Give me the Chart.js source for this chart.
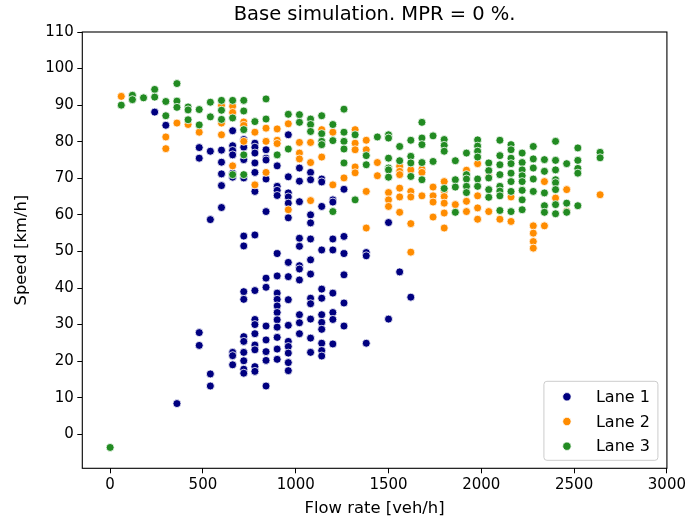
<!DOCTYPE html>
<html>
<head>
<meta charset="utf-8">
<script src="https://cdn.jsdelivr.net/npm/chart.js@4.4.1/dist/chart.umd.min.js"></script>
<style>
  html, body { margin: 0; padding: 0; background: #fff; }
</style>
</head>
<body>
<canvas id="chart" width="689" height="525"></canvas>
<script>
// speeds [km/h], grouped by flow rate [veh/h]
const lane1 = {
  240: [88.1], 300: [84.5], 360: [8.4],
  480: [78.4, 75.5, 27.8, 24.3],
  540: [77.4, 58.7, 16.5, 13.2],
  600: [77.7, 74.4, 71.2, 68.0, 62.0],
  660: [83.0, 78.9, 77.6, 76.4, 71.4, 70.3, 22.4, 21.5, 19.0],
  720: [80.6, 78.5, 75.1, 70.1, 54.2, 51.5, 39.0, 36.9, 26.7, 25.4, 22.4, 20.1, 17.8, 16.7],
  780: [79.6, 78.5, 76.9, 74.2, 71.6, 66.4, 54.5, 39.3, 31.4, 30.0, 27.5, 24.4, 23.1, 18.5, 17.2],
  840: [77.8, 75.5, 75.0, 69.8, 60.9, 42.7, 40.2, 29.6, 25.8, 22.6, 20.2, 13.2],
  900: [73.4, 67.8, 66.7, 65.3, 49.4, 43.3, 38.6, 36.9, 35.1, 33.3, 31.3, 29.3, 26.5, 23.3, 20.5],
  960: [81.9, 70.4, 66.0, 64.9, 63.2, 59.2, 47.0, 43.1, 36.8, 29.8, 25.4, 24.0, 22.2, 19.6, 17.4],
  1020: [72.8, 69.2, 63.6, 53.6, 51.4, 46.1, 45.2, 42.2, 32.7, 30.5, 27.5],
  1080: [71.6, 69.6, 60.0, 57.8, 53.4, 47.7, 43.8, 37.2, 35.7, 31.5, 26.3, 22.4],
  1140: [69.8, 69.0, 62.3, 50.4, 39.7, 37.2, 32.7, 30.6, 28.7, 24.9, 22.9, 21.4],
  1200: [64.1, 63.5, 53.4, 50.4, 38.6, 33.3, 31.4, 24.7],
  1260: [67.0, 54.1, 49.4, 43.6, 35.9, 29.6],
  1380: [49.7, 48.8, 24.9],
  1500: [57.9, 31.5], 1560: [44.4], 1620: [37.5]
};

const lane2 = {
  60: [92.4], 300: [81.3, 78.1], 360: [85.1], 420: [84.7], 480: [82.6],
  600: [89.9, 85.1, 81.9],
  660: [89.7, 88.0, 73.4],
  720: [85.4, 84.4, 80.1],
  780: [82.6, 68.2],
  840: [83.7, 80.1, 71.6],
  900: [83.5, 80.4, 79.5],
  960: [84.9, 61.4],
  1020: [79.8, 76.9, 75.3],
  1080: [79.8, 74.3, 63.9],
  1140: [83.3, 75.8],
  1200: [82.6, 68.2],
  1260: [70.1],
  1320: [83.3, 79.6, 77.8, 73.1, 71.5],
  1380: [80.4, 77.8, 66.4, 56.4],
  1440: [74.3, 70.7],
  1500: [66.1, 64.1, 62.3],
  1560: [73.3, 71.9, 71.0, 67.3, 64.9, 60.7],
  1620: [72.3, 66.4, 64.9, 57.6, 49.8],
  1680: [72.5, 71.6, 65.2],
  1740: [67.6, 65.2, 63.5, 59.4],
  1800: [69.1, 66.5, 65.0, 63.2, 60.5, 56.4],
  1860: [62.8],
  1920: [72.2, 63.7, 60.9],
  1980: [74.0, 65.2, 61.9, 58.8],
  2040: [70.5, 60.9],
  2100: [65.8, 58.8],
  2160: [64.9, 58.2],
  2280: [57.0, 55.0, 52.7, 50.9],
  2340: [69.1, 57.0],
  2400: [64.6],
  2460: [66.9, 61.0],
  2640: [65.5]
};

const lane3 = {
  0: [-3.6], 60: [90.0], 120: [92.7, 91.5], 180: [92.0], 240: [94.3, 92.2],
  300: [91.0, 87.1],
  360: [95.9, 91.1, 89.4],
  420: [89.5, 88.7, 86.0],
  480: [88.8, 84.6],
  540: [90.8, 86.8],
  600: [91.3, 88.6, 86.1],
  660: [91.3, 86.5, 71.0],
  720: [91.3, 88.4, 83.3, 76.4, 71.0],
  780: [85.5],
  840: [91.7, 86.2],
  900: [76.4],
  960: [87.5, 78.0],
  1020: [87.4, 85.3],
  1080: [86.2, 84.7, 82.8],
  1140: [87.1, 82.2, 80.1, 79.2],
  1200: [84.7, 80.3, 60.9],
  1260: [88.9, 82.6, 80.1, 78.0, 74.2],
  1320: [81.9, 64.1],
  1380: [76.2, 73.7],
  1440: [81.3],
  1500: [81.9, 81.0, 75.5, 72.8, 72.3, 70.3],
  1560: [78.7, 74.8],
  1620: [80.4, 76.0, 74.2, 70.5],
  1680: [85.3, 81.0, 79.2, 74.3, 69.6],
  1740: [81.6, 74.6],
  1800: [80.6, 79.0, 77.4, 67.2],
  1860: [74.8, 69.6, 67.6, 60.7],
  1920: [76.9, 71.0, 69.8, 67.8, 66.1],
  1980: [80.5, 78.8, 77.4, 75.8, 69.8, 67.8],
  2040: [74.2, 72.1, 70.1, 66.9, 64.8],
  2100: [80.4, 76.2, 73.7, 71.0, 67.8, 66.5, 65.2, 61.2],
  2160: [79.2, 77.8, 75.5, 74.0, 71.4, 69.1, 66.4, 60.9],
  2220: [76.9, 74.3, 72.3, 70.7, 69.1, 66.7, 64.1, 61.4],
  2280: [78.7, 75.3, 72.8, 69.8, 66.4],
  2340: [75.1, 71.9, 66.0, 62.5, 60.7],
  2400: [80.1, 74.9, 72.3, 69.6, 68.8, 66.9, 62.8, 60.3],
  2460: [74.0, 63.2, 60.7],
  2520: [78.3, 74.9, 72.7, 71.4, 62.5],
  2640: [77.1, 75.6]
};

const laneLabels = ['Lane 1', 'Lane 2', 'Lane 3'];
const laneColors = ['#000080', '#ff8c00', '#228b22'];
const xTicks = [0, 500, 1000, 1500, 2000, 2500, 3000];
const yTicks = [0, 5, 10, 15, 20, 25, 30, 35, 40, 45, 50, 55, 60, 65, 70, 75, 80, 85, 90, 95, 100, 105, 110];
const titleText = 'Base simulation. MPR = 0 %.';

const FONT = 'DejaVu Sans';

function toPoints(lane) {
  const pts = [];
  Object.keys(lane).forEach(flow => {
    lane[flow].forEach(speed => pts.push({ x: Number(flow), y: speed }));
  });
  return pts;
}

const datasets = [lane1, lane2, lane3].map((lane, i) => ({
  label: laneLabels[i],
  data: toPoints(lane),
  backgroundColor: laneColors[i],
  borderColor: '#ffffff',
  borderWidth: 0.8,
  pointRadius: 4,
  order: 3 - i   // lane 3 drawn on top
}));

// frame, title and legend drawn like matplotlib
const decorations = {
  id: 'decorations',
  afterDraw(chart) {
    const { ctx, chartArea: a } = chart;
    ctx.save();
    ctx.strokeStyle = '#000';
    ctx.lineWidth = 1.1;
    ctx.strokeRect(a.left, a.top, a.right - a.left, a.bottom - a.top);

    ctx.fillStyle = '#000';
    ctx.font = '19.5px "' + FONT + '"';
    ctx.textAlign = 'center';
    ctx.textBaseline = 'middle';
    ctx.fillText(titleText, (a.left + a.right) / 2, 15);

    // legend box in lower right
    const w = 114, h = 79;
    const bx = a.right - 9 - w, by = a.bottom - 8 - h;
    ctx.beginPath();
    ctx.roundRect(bx, by, w, h, 3);
    ctx.fillStyle = 'rgba(255,255,255,0.8)';
    ctx.fill();
    ctx.strokeStyle = '#cccccc';
    ctx.lineWidth = 1;
    ctx.stroke();
    ctx.font = '16px "' + FONT + '"';
    ctx.textAlign = 'left';
    laneLabels.forEach((lab, i) => {
      const cy = by + 15.5 + i * 24.7;
      ctx.beginPath();
      ctx.arc(bx + 23, cy, 4.2, 0, Math.PI * 2);
      ctx.fillStyle = laneColors[i];
      ctx.fill();
      ctx.strokeStyle = '#fff';
      ctx.lineWidth = 0.8;
      ctx.stroke();
      ctx.fillStyle = '#000';
      ctx.fillText(lab, bx + 52, cy + 1);
    });
    ctx.restore();
  }
};

new Chart(document.getElementById('chart'), {
  type: 'scatter',
  data: { datasets },
  options: {
    responsive: false,
    animation: false,
    layout: { padding: { left: 0, right: 20.3, top: 32, bottom: 0 } },
    plugins: {
      legend: { display: false },
      tooltip: { enabled: false },
      title: { display: false }
    },
    scales: {
      x: {
        type: 'linear',
        min: -150,
        max: 3000,
        afterBuildTicks: s => { s.ticks = xTicks.map(v => ({ value: v })); },
        afterFit: s => { s.height = 56.7; },
        border: { display: false },
        grid: { drawOnChartArea: false, drawTicks: true, tickLength: 5, color: '#000', tickWidth: 1 },
        ticks: { color: '#000', padding: 3, maxRotation: 0, font: { family: FONT, size: 15 }, callback: v => String(v) },
        title: { display: true, text: 'Flow rate [veh/h]', color: '#000', font: { family: FONT, size: 16.4 }, padding: { top: 0, bottom: 6.2 } }
      },
      y: {
        type: 'linear',
        min: -9.3,
        max: 110,
        afterBuildTicks: s => { s.ticks = yTicks.map(v => ({ value: v })); },
        afterFit: s => { s.width = 82.3; },
        border: { display: false },
        grid: { drawOnChartArea: false, drawTicks: true, tickLength: 5, color: '#000', tickWidth: 1 },
        ticks: { color: '#000', padding: 3.5, font: { family: FONT, size: 15 }, callback: v => String(v) },
        title: { display: true, text: 'Speed [km/h]', color: '#000', font: { family: FONT, size: 16.4 }, padding: { top: 12.2 } }
      }
    }
  },
  plugins: [decorations]
});
</script>
</body>
</html>
